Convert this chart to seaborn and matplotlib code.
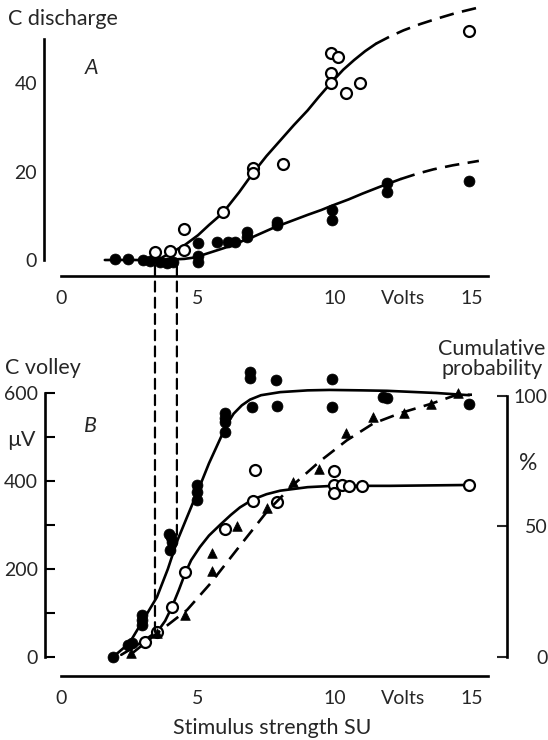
import matplotlib
matplotlib.use("Agg")
import matplotlib.pyplot as plt
from matplotlib.patches import ConnectionPatch
import seaborn as sns

# ---------------- Panel A: C discharge (impulses) vs stimulus strength (V) ----------------
a_open_v = [3.43, 3.98, 4.49, 4.49, 5.9, 7.0, 7.0, 8.1, 9.85, 10.1, 9.85, 9.85, 10.4, 10.9, 14.9]
a_open_n = [1.8, 2.0, 2.3, 7.0, 10.9, 20.8, 19.6, 21.8, 46.8, 45.8, 42.3, 40.0, 37.8, 40.0, 51.8]

a_fill_v = [1.97, 2.45, 3.0, 3.25, 3.6, 3.87, 4.1, 5.0, 5.0, 5.0, 5.7, 6.1, 6.35,
            6.8, 6.8, 7.9, 7.9, 9.9, 9.9, 11.9, 11.9, 14.9]
a_fill_n = [0.2, 0.2, 0.0, -0.2, -0.5, -0.7, -0.5, 3.8, 1.0, -0.4, 4.1, 4.1, 4.1,
            6.3, 5.2, 8.6, 7.9, 11.3, 9.0, 17.4, 15.4, 17.8]

# hand-fitted curves (solid part, then extrapolated dashed part)
a_open_fit_v = [3.7, 4.5, 5.0, 5.4, 5.9, 6.5, 7.0, 7.5, 8.0, 8.5, 9.0, 9.4, 9.85,
                10.3, 10.7, 11.1, 11.5]
a_open_fit_n = [0.6, 3.3, 5.6, 7.9, 10.6, 15.3, 19.6, 23.5, 27.0, 30.5, 33.8, 36.8, 40.0,
                43.0, 45.2, 47.2, 48.9]
a_open_ext_v = [11.5, 12.0, 12.5, 13.1, 13.7, 14.4, 15.2]
a_open_ext_n = [48.9, 50.5, 51.9, 53.3, 54.5, 55.8, 57.0]

a_fill_fit_v = [1.6, 3.0, 4.0, 4.5, 4.8, 5.1, 5.4, 5.8, 6.1, 6.5, 7.0, 7.4, 7.8,
                8.4, 9.0, 9.5, 9.9, 10.5, 11.0, 11.7, 12.4]
a_fill_fit_n = [0.0, 0.0, 0.1, 0.25, 0.5, 1.0, 1.6, 2.4, 3.0, 4.0, 5.2, 6.3, 7.4,
                8.8, 10.2, 11.3, 12.3, 13.7, 15.0, 16.7, 18.3]
a_fill_ext_v = [12.4, 13.0, 13.6, 14.3, 15.25]
a_fill_ext_n = [18.3, 19.5, 20.5, 21.4, 22.4]

# ---------------- Panel B: C volley (µV) and cumulative probability (%) ----------------
b_fill_v = [1.9, 2.45, 2.6, 2.95, 2.95, 2.95, 3.95, 4.0, 4.05, 3.98, 4.96, 4.96, 4.96,
            6.0, 6.0, 6.0, 6.0, 6.9, 6.9, 6.97, 7.85, 7.9, 9.9, 9.9, 11.75, 11.9, 14.9]
b_fill_uv = [0, 27, 32, 95, 84, 73, 280, 273, 262, 243, 391, 375, 357,
             554, 543, 534, 511, 648, 634, 568, 630, 570, 632, 568, 591, 589, 575]

b_open_v = [3.07, 3.5, 4.05, 4.53, 6.0, 7.08, 7.0, 7.9, 9.96, 9.96, 9.96, 10.25, 10.5, 11.0, 14.9]
b_open_uv = [34, 57, 114, 193, 290, 425, 354, 353, 423, 391, 373, 391, 389, 389, 391]

b_tri_v = [2.55, 3.5, 4.53, 5.5, 5.5, 6.44, 7.52, 8.47, 9.4, 10.4, 11.4, 12.5, 13.5, 14.5]
b_tri_pct = [1.5, 9, 16, 33, 40, 50, 57, 67, 72, 86, 92, 93.5, 97, 101]

b_fill_fit_v = [1.9, 2.5, 3.0, 3.5, 3.9, 4.23, 4.6, 4.96, 5.4, 5.87, 6.1, 6.3, 6.6,
                6.9, 7.3, 8.0, 9.0, 9.8, 11.0, 11.9, 13.7, 14.9]
b_fill_fit_uv = [0, 32, 84, 136, 200, 262, 318, 372, 440, 504, 533, 553, 572,
                 585, 595, 602, 606, 607, 606, 605, 600, 595]

b_open_fit_v = [2.2, 2.6, 3.07, 3.55, 3.8, 4.05, 4.3, 4.53, 4.75, 5.07, 5.4, 5.8, 6.2,
                6.53, 7.0, 7.5, 8.0, 9.0, 9.93, 12.0, 14.9]
b_open_fit_uv = [5, 20, 39, 60, 82, 114, 152, 190, 220, 250, 276, 300, 323,
                 340, 358, 370, 378, 386, 389, 389, 391]

b_tri_fit_v = [2.55, 3.5, 4.6, 5.44, 6.41, 7.54, 8.48, 9.45, 10.43, 11.4, 12.4, 13.5, 14.45, 15.0]
b_tri_fit_pct = [1.0, 9.0, 18, 28, 41, 56, 66, 75, 83, 89.5, 93.5, 97, 100.5, 100.5]

# thresholds joining the two panels
thr_v = [3.43, 4.23]
thr_top_n = [-1.2, -1.2]
thr_bottom_uv = [57, 266]

A_YTICKS = [0, 20, 40]
A_YMINOR = [10, 30, 50]
B_YTICKS = [0, 200, 400, 600]
B_YMINOR = [100, 300, 500]
PCT_TICKS = [0, 50, 100]
X_TICKS = [0, 5, 10, 12.5, 15]
X_LABELS = ["0", "5", "10", "Volts", "15"]

# ---------------- figure ----------------
sns.set_style("white")
plt.rcParams["font.family"] = ["Lato", "DejaVu Sans"]

W, H = 548, 740
fig = plt.figure(figsize=(W / 100, H / 100), dpi=100)


def fx(px):
    return px / W


def fy(py):
    return 1 - py / H


X_LIM = (-0.766, 16.277)
FS = 14
FT = 15.5
LW = 1.9
TICK = dict(direction="in", length=7.5, width=1.5, labelsize=FS, color="black")

axA = fig.add_axes([fx(40), fy(290), fx(467), 290 / H])
axB = fig.add_axes([fx(40), fy(700), fx(467), 370 / H])

for ax in (axA, axB):
    ax.set_facecolor("none")
    ax.set_xlim(*X_LIM)
    for s in ("top", "right"):
        ax.spines[s].set_visible(False)
    for s in ("left", "bottom"):
        ax.spines[s].set_linewidth(LW)
        ax.spines[s].set_color("black")
    ax.set_xticks(X_TICKS)
    ax.set_xticklabels(X_LABELS)
    ax.xaxis.get_major_ticks()[3].tick1line.set_visible(False)
    ax.tick_params(axis="both", which="both", **TICK)
    ax.tick_params(axis="x", pad=10)
    ax.tick_params(axis="y", pad=5)
    ax.set_xlabel("")
    ax.set_ylabel("")

open_kw = dict(marker="o", s=62, color="white", edgecolor="black", linewidth=1.6, zorder=5)
fill_kw = dict(marker="o", s=62, color="black", edgecolor="black", linewidth=0.5, zorder=5)
tri_kw = dict(marker="^", s=48, color="black", edgecolor="black", linewidth=0.5, zorder=5)
line_kw = dict(color="black", lw=LW, estimator=None, sort=False, zorder=3)
DASH = (0, (5.5, 3.2))

# ---- panel A ----
axA.set_ylim(-6.78, 58.76)
axA.spines["left"].set_position(("data", -0.62))
axA.spines["left"].set_bounds(0, 50)
axA.spines["bottom"].set_position(("data", -3.62))
axA.spines["bottom"].set_bounds(0, 15.6)
axA.set_yticks(A_YTICKS)
axA.set_yticks(A_YMINOR, minor=True)

sns.lineplot(x=a_open_fit_v, y=a_open_fit_n, ax=axA, **line_kw)
sns.lineplot(x=a_open_ext_v, y=a_open_ext_n, ax=axA, linestyle=DASH, **line_kw)
sns.lineplot(x=a_fill_fit_v, y=a_fill_fit_n, ax=axA, **line_kw)
sns.lineplot(x=a_fill_ext_v, y=a_fill_ext_n, ax=axA, linestyle=DASH, **line_kw)
sns.scatterplot(x=a_fill_v, y=a_fill_n, ax=axA, **fill_kw)
sns.scatterplot(x=a_open_v, y=a_open_n, ax=axA, **open_kw)

# ---- panel B ----
axB.set_ylim(-97.7, 743.2)
axB.spines["left"].set_position(("data", -0.58))
axB.spines["left"].set_bounds(0, 600)
axB.spines["bottom"].set_position(("data", -43.2))
axB.spines["bottom"].set_bounds(0, 15.6)
axB.set_yticks(B_YTICKS)
axB.set_yticks(B_YMINOR, minor=True)

axR = axB.twinx()
axR.set_facecolor("none")
axR.set_ylim(-16.5, 125.3)
for s in ("top", "left", "bottom"):
    axR.spines[s].set_visible(False)
axR.spines["right"].set_linewidth(LW)
axR.spines["right"].set_color("black")
axR.spines["right"].set_bounds(0, 100)
axR.set_yticks(PCT_TICKS)
axR.tick_params(axis="y", direction="in", length=7.5, width=1.5, labelsize=FS, pad=29)
for lab in axR.get_yticklabels():
    lab.set_horizontalalignment("right")

sns.lineplot(x=b_fill_fit_v, y=b_fill_fit_uv, ax=axB, **line_kw)
sns.lineplot(x=b_open_fit_v, y=b_open_fit_uv, ax=axB, **line_kw)
sns.scatterplot(x=b_fill_v, y=b_fill_uv, ax=axB, **fill_kw)
sns.scatterplot(x=b_open_v, y=b_open_uv, ax=axB, **open_kw)
sns.lineplot(x=b_tri_fit_v, y=b_tri_fit_pct, ax=axR, linestyle=DASH, **line_kw)
sns.scatterplot(x=b_tri_v, y=b_tri_pct, ax=axR, **tri_kw)
axR.set_ylabel("")
axR.set_ylim(-16.5, 125.3)
axB.set_xlim(*X_LIM)

# threshold lines crossing from panel A to panel B
for v, top, bot in zip(thr_v, thr_top_n, thr_bottom_uv):
    con = ConnectionPatch(xyA=(v, top), coordsA="data", axesA=axA,
                          xyB=(v, bot), coordsB="data", axesB=axB,
                          color="black", lw=1.6, linestyle=(0, (4.5, 2.8)), zorder=2)
    fig.add_artist(con)

# ---- text ----
fig.text(fx(8), fy(19), "C discharge", fontsize=FT, ha="left", va="center")
fig.text(fx(92), fy(68), "A", fontsize=FT, style="italic", ha="center", va="center")
fig.text(fx(5), fy(368), "C volley", fontsize=FT, ha="left", va="center")
fig.text(fx(90), fy(426), "B", fontsize=FT, style="italic", ha="center", va="center")
fig.text(fx(21), fy(440), "µV", fontsize=FT, ha="center", va="center")
fig.text(fx(492), fy(359), "Cumulative\nprobability", fontsize=FT, ha="center",
         va="center", linespacing=1.0)
fig.text(fx(528), fy(464), "%", fontsize=FT + 1, ha="center", va="center")
fig.text(fx(272), fy(728), "Stimulus strength SU", fontsize=FT, ha="center", va="center")

fig.savefig("out.png", dpi=100)
